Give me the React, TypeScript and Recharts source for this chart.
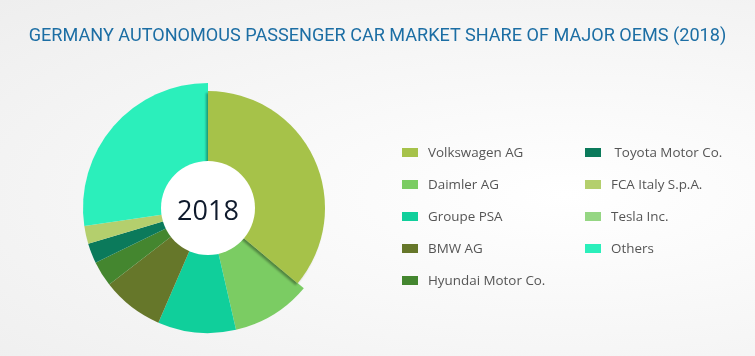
import React from 'react';
import { PieChart, Pie, Cell, Legend } from 'recharts';

const companies = [
  'Volkswagen AG',
  'Daimler AG',
  'Groupe PSA',
  'BMW AG',
  'Hyundai Motor Co.',
  'Toyota Motor Co.',
  'FCA Italy S.p.A.',
  'Tesla Inc.',
  'Others',
];

// market share, %
const shares = [36.1, 10.3, 10.1, 8.0, 3.3, 2.6, 2.3, 0, 27.3];

const COLORS = [
  '#a6c24a',
  '#7bcc63',
  '#10cf9b',
  '#66772a',
  '#44862f',
  '#0b7a5b',
  '#b4cf6d',
  '#95d683',
  '#2befbb',
];

const data = companies.map((name, i) => ({ name, value: shares[i] }));

const CX = 208;
const CY = 208;

function LegendBox() {
  const cols = [companies.slice(0, 5), companies.slice(5)];
  return (
    <div style={{ display: 'flex', fontFamily: '"Open Sans", sans-serif', fontSize: 13.4, color: '#555' }}>
      {cols.map((col, c) => (
        <div key={c} style={{ width: c === 0 ? 183 : 150 }}>
          {col.map((name) => {
            const idx = companies.indexOf(name);
            return (
              <div key={name} style={{ display: 'flex', alignItems: 'center', height: 32 }}>
                <span style={{ display: 'inline-block', width: 16, height: 9, background: COLORS[idx], marginRight: 10 }} />
                <span style={{ whiteSpace: 'pre' }}>{name === 'Toyota Motor Co.' ? ' ' + name : name}</span>
              </div>
            );
          })}
        </div>
      ))}
    </div>
  );
}

export default function App() {
  return (
    <div
      style={{
        position: 'fixed',
        left: 0,
        top: 0,
        width: 755,
        height: 356,
        background: 'radial-gradient(ellipse at 75% 55%, #ffffff 0%, #f6f6f6 55%, #eeeeee 100%)',
        overflow: 'hidden',
      }}
    >
      <svg width={0} height={0} style={{ position: 'absolute' }}>
        <defs>
          <filter id="vwShadow" x="-20%" y="-20%" width="140%" height="140%">
            <feDropShadow dx={-2} dy={2} stdDeviation={1} floodColor="#000" floodOpacity={0.35} />
          </filter>
        </defs>
      </svg>
      <div
        style={{
          position: 'absolute',
          top: 24,
          left: 0,
          width: 755,
          textAlign: 'center',
          fontFamily: 'Roboto, sans-serif',
          fontSize: 18.1,
          color: '#1c6ea4',
        }}
      >
        GERMANY AUTONOMOUS PASSENGER CAR MARKET SHARE OF MAJOR OEMS (2018)
      </div>
      <div style={{ position: 'absolute', left: 0, top: 0 }}>
        <PieChart width={755} height={356} margin={{ top: 0, right: 0, bottom: 0, left: 0 }}>
          <Pie
            data={data}
            dataKey="value"
            nameKey="name"
            cx={CX}
            cy={CY}
            startAngle={90}
            endAngle={-270}
            innerRadius={0}
            outerRadius={125}
            stroke="none"
            isAnimationActive={false}
            legendType="none"
          >
            {data.map((entry, index) => (
              <Cell key={`o-${index}`} fill={index === 0 ? 'none' : COLORS[index]} />
            ))}
          </Pie>
          <Pie
            data={data}
            dataKey="value"
            nameKey="name"
            cx={CX}
            cy={CY}
            startAngle={90}
            endAngle={-270}
            innerRadius={0}
            outerRadius={117}
            stroke="none"
            isAnimationActive={false}
            legendType="none"
          >
            {data.map((entry, index) => (
              <Cell
                key={`v-${index}`}
                fill={index === 0 ? COLORS[0] : 'none'}
                filter={index === 0 ? 'url(#vwShadow)' : undefined}
              />
            ))}
          </Pie>
          <Legend
            content={<LegendBox />}
            wrapperStyle={{ position: 'absolute', left: 402, top: 136, width: 340 }}
          />
        </PieChart>
      </div>
      <svg width={755} height={356} style={{ position: 'absolute', left: 0, top: 0, pointerEvents: 'none' }}>
        <circle cx={CX} cy={CY} r={47} fill="#ffffff" />
        <text
          x={CX}
          y={CY + 1}
          textAnchor="middle"
          dominantBaseline="central"
          fontFamily='"Open Sans", sans-serif'
          fontSize={27}
          fill="#0f1a2c"
        >
          2018
        </text>
      </svg>
    </div>
  );
}
